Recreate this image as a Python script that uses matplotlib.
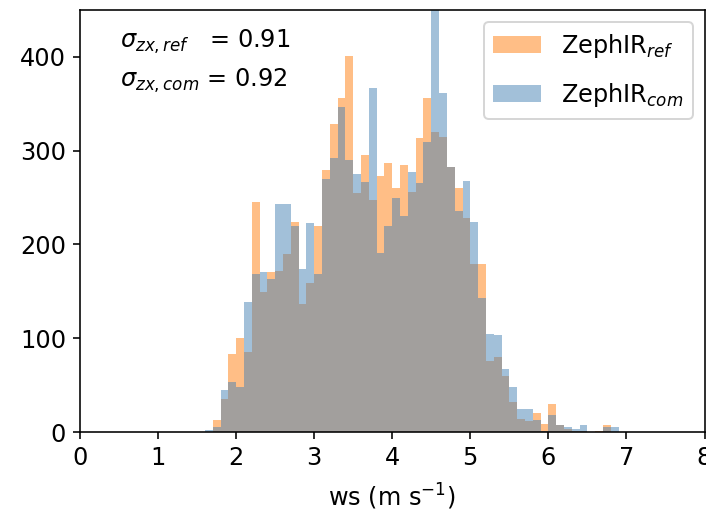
import numpy as np
import matplotlib
matplotlib.use("Agg")
import matplotlib.pyplot as plt

# histogram counts read per 0.1 m/s bin, bins start at 1.6
bin_left = np.round(np.arange(1.6, 6.85, 0.1), 1)
count_ref = [0, 13, 35, 83, 100, 85, 245, 149, 171, 172,
             190, 224, 137, 159, 220, 279, 328, 356, 401, 255,
             295, 247, 273, 287, 260, 285, 256, 313, 356, 320,
             315, 283, 260, 228, 179, 179, 76, 80, 60, 32,
             14, 12, 20, 9, 30, 7, 3, 1, 1, 0,
             1, 7, 0]
count_com = [2, 5, 45, 53, 48, 139, 169, 171, 163, 243,
             243, 220, 174, 223, 169, 270, 292, 347, 290, 275,
             267, 367, 191, 220, 249, 230, 277, 266, 309, 460,
             362, 283, 236, 268, 224, 143, 105, 103, 67, 48,
             24, 24, 13, 1, 18, 7, 5, 3, 7, 0,
             0, 5, 5]
sigma_ref = 0.91
sigma_com = 0.92

edges = np.round(np.arange(0, 8.001, 0.1), 1)
centers = bin_left + 0.05

plt.rcParams['font.size'] = 12

fig = plt.figure(figsize=(706/144, 517/144), dpi=144)
ax = fig.add_axes([80/706, 85/517, 624.5/706, 422/517])

ax.hist(centers, bins=edges, weights=count_ref, color='tab:orange', alpha=0.5,
        label=r'ZephIR$_{ref}$')
ax.hist(centers, bins=edges, weights=count_com, color='steelblue', alpha=0.5,
        label=r'ZephIR$_{com}$')

ax.text(0.064, 0.925, r'$\sigma_{zx,ref}$   = %.2f' % sigma_ref, transform=ax.transAxes,
        va='center', ha='left')
ax.text(0.064, 0.833, r'$\sigma_{zx,com}$ = %.2f' % sigma_com, transform=ax.transAxes,
        va='center', ha='left')

ax.set_xlim(0, 8)
ax.set_ylim(0, 450)
ax.set_xticks(range(0, 9))
ax.set_yticks([0, 100, 200, 300, 400])
ax.set_xlabel(r'ws (m s$^{-1}$)', labelpad=6)
ax.legend(loc='upper right', labelspacing=0.9)

fig.savefig('out.png', dpi=144)
